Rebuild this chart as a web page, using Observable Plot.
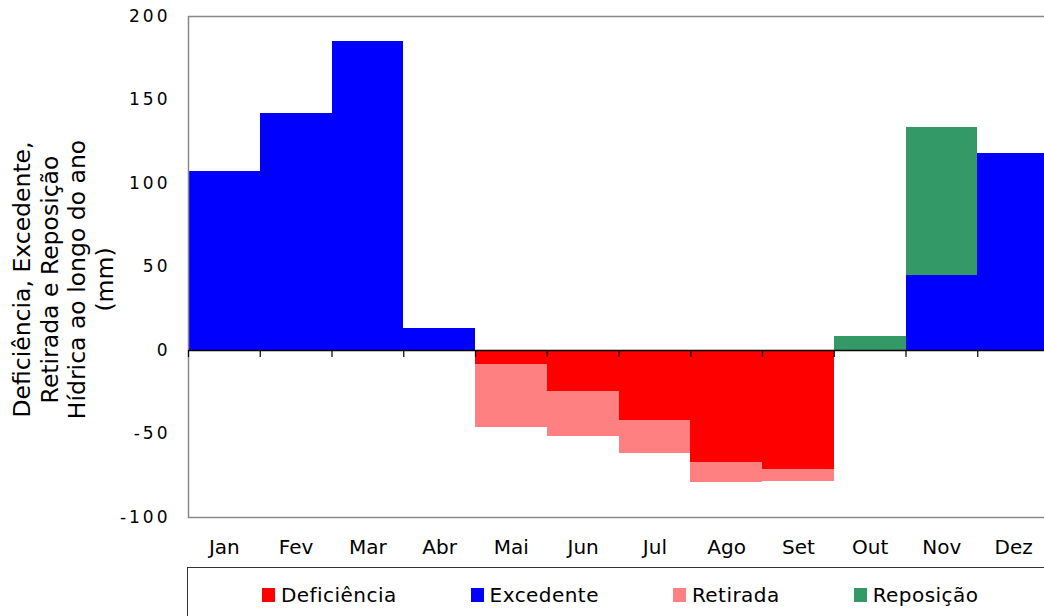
<!DOCTYPE html>
<html><head><meta charset="utf-8">
<script src="https://cdn.jsdelivr.net/npm/d3@7"></script>
<script src="https://cdn.jsdelivr.net/npm/@observablehq/plot@0.6"></script>
<style>
html,body{margin:0;padding:0;overflow:hidden;background:#fff;width:1044px;height:616px;position:relative}
#chart{position:absolute;left:0;top:0;width:1049px}
#chart svg{max-width:none !important;width:1049px !important;height:566px !important}
#legend{position:absolute;left:187px;top:567px;width:900px;height:70px;border:1.5px solid #333;box-sizing:border-box;
  font-family:"DejaVu Sans";font-size:20px;letter-spacing:0.45px;color:#000;display:flex;align-items:flex-start;padding-left:74px;padding-top:15px}
.item{display:flex;align-items:center;margin-right:74px;white-space:nowrap}
.sw{width:13px;height:14px;margin-right:6px;display:inline-block}
[aria-label="y-axis tick label"] text{letter-spacing:3px}
</style>
</head><body>
<div id="chart"></div>
<div id="legend"></div>
<script>
const months = ["Jan","Fev","Mar","Abr","Mai","Jun","Jul","Ago","Set","Out","Nov","Dez"];
const excedente   = [107, 142, 185, 13, 0, 0, 0, 0, 0, 0, 45, 118];
const deficiencia = [0, 0, 0, 0, 8.4, 24.5, 42, 67, 71.3, 0, 0, 0];
const retirada    = [0, 0, 0, 0, 38, 26.8, 19.4, 11.9, 6.9, 0, 0, 0];
const reposicao   = [0, 0, 0, 0, 0, 0, 0, 0, 0, 8.6, 88.7, 0];
const series = ["Deficiência","Excedente","Retirada","Reposição"];
const colors = ["#FF0000","#0000FF","#FF8080","#339966"];
const yTicks = [-100, -50, 0, 50, 100, 150, 200];
const yTitle = "Deficiência, Excedente,\nRetirada e Reposição\nHídrica ao longo do ano\n(mm)";

const seriesValues = [deficiencia, excedente, retirada, reposicao];
const seriesSign = [-1, 1, -1, 1];
const rows = [];
series.forEach((s, k) => {
  months.forEach((m, i) => {
    const v = seriesValues[k][i];
    if (v) rows.push({month: m, serie: s, value: seriesSign[k] * v});
  });
});

const W = 1049, ML = 188, MT = 16, H = 566, MB = 49;
const bw = (W - ML) / months.length;

const chart = Plot.plot({
  width: W, height: H,
  marginLeft: ML, marginRight: 0, marginTop: MT, marginBottom: MB,
  style: {fontFamily: "DejaVu Sans", background: "white", overflow: "visible"},
  x: {domain: months, padding: 0, round: false},
  y: {domain: [-100, 200]},
  color: {domain: series, range: colors},
  marks: [
    Plot.barY(rows, {x: "month", y: "value", fill: "serie", inset: 0, shapeRendering: "crispEdges"}),
    Plot.frame({stroke: "#888", strokeWidth: 1.5}),
    Plot.ruleY([0], {stroke: "black", strokeWidth: 1.5}),
    Plot.ruleX(months, {x: d => d, y1: 0, y2: -4.2, dx: -bw / 2, stroke: "black", strokeWidth: 1.2}),
    Plot.axisX({anchor: "bottom", tickSize: 0, tickPadding: 22, fontSize: 20, label: null, fill: "black"}),
    Plot.axisY({ticks: yTicks, tickSize: 0, tickPadding: 18, fontSize: 17, label: null, tickFormat: d => String(d), fill: "black"}),
    Plot.text([yTitle], {frameAnchor: "left", dx: 62 - ML, dy: 12.5, rotate: -90, textAnchor: "middle", lineAnchor: "middle", fontSize: 23.5, lineHeight: 1.17, fill: "black"})
  ]
});
document.getElementById("chart").appendChild(chart);

const legend = document.getElementById("legend");
series.forEach((s, k) => {
  const it = document.createElement("div");
  it.className = "item";
  const sw = document.createElement("span");
  sw.className = "sw";
  sw.style.background = colors[k];
  const tx = document.createElement("span");
  tx.textContent = s;
  it.appendChild(sw); it.appendChild(tx);
  legend.appendChild(it);
});
</script>
</body></html>
